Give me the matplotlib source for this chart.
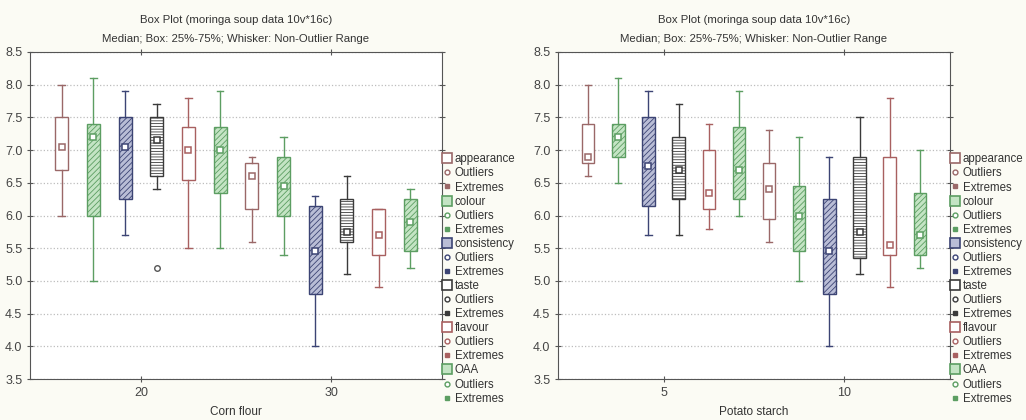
import matplotlib
matplotlib.use('Agg')
import matplotlib.pyplot as plt
from matplotlib.lines import Line2D

plt.rcParams['font.family'] = ['Liberation Sans', 'DejaVu Sans']
plt.rcParams['hatch.linewidth'] = 0.6

# ---------------------------- data ----------------------------------
variables = ['appearance', 'colour', 'consistency', 'taste', 'flavour', 'OAA']

# order: level 1 (six variables), then level 2 (six variables)
corn_levels = [20, 30]
corn_whishi = [8.0, 8.1, 7.9, 7.7, 7.8, 7.9, 6.9, 7.2, 6.3, 6.6, 6.1, 6.4]
corn_q3 = [7.5, 7.4, 7.5, 7.5, 7.35, 7.35, 6.8, 6.9, 6.15, 6.25, 6.1, 6.25]
corn_med = [7.05, 7.2, 7.05, 7.15, 7.0, 7.0, 6.6, 6.45, 5.45, 5.75, 5.7, 5.9]
corn_q1 = [6.7, 6.0, 6.25, 6.6, 6.55, 6.35, 6.1, 6.0, 4.8, 5.6, 5.4, 5.45]
corn_whislo = [6.0, 5.0, 5.7, 6.4, 5.5, 5.5, 5.6, 5.4, 4.0, 5.1, 4.9, 5.2]
corn_outliers = [[], [], [], [5.2], [], [], [], [], [], [], [], []]

potato_levels = [5, 10]
potato_whishi = [8.0, 8.1, 7.9, 7.7, 7.4, 7.9, 7.3, 7.2, 6.9, 7.5, 7.8, 7.0]
potato_q3 = [7.4, 7.4, 7.5, 7.2, 7.0, 7.35, 6.8, 6.45, 6.25, 6.9, 6.9, 6.35]
potato_med = [6.9, 7.2, 6.75, 6.7, 6.35, 6.7, 6.4, 6.0, 5.45, 5.75, 5.55, 5.7]
potato_q1 = [6.8, 6.9, 6.15, 6.25, 6.1, 6.25, 5.95, 5.45, 4.8, 5.35, 5.4, 5.4]
potato_whislo = [6.6, 6.5, 5.7, 5.7, 5.8, 6.0, 5.6, 5.0, 4.0, 5.1, 4.9, 5.2]
potato_outliers = [[] for _ in range(12)]

# --------------------------- styles ---------------------------------
edge_cols = ['#9a6868', '#5c9e62', '#3c4474', '#3a3a3a', '#a86060', '#5c9e62']
face_cols = ['white', '#c4e4c4', '#b9bdd6', 'white', 'white', '#c4e4c4']
hatches = [None, '//////', '//////', '------', None, '//////']

fig = plt.figure(figsize=(10.26, 4.2), dpi=100, facecolor='#fbfbf4')
ax1 = fig.add_axes([0.0292, 0.0976, 0.4016, 0.7786])
ax2 = fig.add_axes([0.5439, 0.0976, 0.3820, 0.7786])


def draw_panel(ax, levels, whislo, q1, med, q3, whishi, outl, xlabel):
    step = (levels[1] - levels[0]) / 6.0
    width = step * 0.41
    for j, lev in enumerate(levels):
        for i in range(6):
            k = j * 6 + i
            pos = lev + (i - 2.5) * step
            st = [{'whislo': whislo[k], 'q1': q1[k], 'med': med[k],
                   'q3': q3[k], 'whishi': whishi[k], 'fliers': outl[k]}]
            c = edge_cols[i]
            b = ax.bxp(st, positions=[pos], widths=width, patch_artist=True,
                       showfliers=True, manage_ticks=False,
                       boxprops=dict(facecolor=face_cols[i], edgecolor=c, linewidth=1.0),
                       whiskerprops=dict(color=c, linewidth=1.0),
                       capprops=dict(color=c, linewidth=1.0),
                       medianprops=dict(linewidth=0),
                       flierprops=dict(marker='o', markersize=4, markerfacecolor='white',
                                       markeredgecolor='#555555'),
                       capwidths=width * 0.5)
            if hatches[i]:
                b['boxes'][0].set_hatch(hatches[i])
            ax.plot([pos], [med[k]], 's', markersize=5, markerfacecolor='white',
                    markeredgecolor=c, markeredgewidth=1.1, zorder=5)
    ax.set_xlim(levels[0] - 3 * step - 0.5 * step, levels[1] + 3 * step + 0.5 * step)
    ax.set_ylim(3.5, 8.5)
    ax.set_xticks(levels)
    ax.set_yticks([3.5, 4.0, 4.5, 5.0, 5.5, 6.0, 6.5, 7.0, 7.5, 8.0, 8.5])
    ax.set_yticklabels(['3.5', '4.0', '4.5', '5.0', '5.5', '6.0', '6.5', '7.0', '7.5', '8.0', '8.5'])
    ax.yaxis.grid(True, linestyle=':', color='#bdbdbd', linewidth=0.9)
    ax.set_axisbelow(True)
    ax.tick_params(axis='both', direction='inout', length=4, labelsize=9,
                   colors='#555555', labelcolor='#444444', top=True, right=True)
    for s in ax.spines.values():
        s.set_color('#555555')
    ax.set_title('Box Plot (moringa soup data 10v*16c)\nMedian; Box: 25%-75%; Whisker: Non-Outlier Range',
                 fontsize=8.2, color='#333333', linespacing=2.2, pad=7)
    ax.set_xlabel(xlabel, fontsize=8.5, color='#333333', labelpad=5)

    handles = []
    labels = []
    for i, v in enumerate(variables):
        handles.append(Line2D([], [], marker='s', linestyle='none', markersize=7.5,
                              markerfacecolor=face_cols[i], markeredgecolor=edge_cols[i],
                              markeredgewidth=1.2))
        labels.append(v)
        handles.append(Line2D([], [], marker='o', linestyle='none', markersize=3.5,
                              markerfacecolor='white', markeredgecolor=edge_cols[i]))
        labels.append('Outliers')
        handles.append(Line2D([], [], marker='s', linestyle='none', markersize=3,
                              markerfacecolor=edge_cols[i], markeredgecolor=edge_cols[i]))
        labels.append('Extremes')
    leg = ax.legend(handles, labels, loc='upper left', bbox_to_anchor=(1.0, 0.69),
                    frameon=False, labelspacing=0.18, handlelength=0.8,
                    handletextpad=0.3, borderaxespad=0.0, borderpad=0.0,
                    prop={'family': ['Liberation Sans'], 'size': 8.3})
    for t in leg.get_texts():
        t.set_color('#333333')


draw_panel(ax1, corn_levels, corn_whislo, corn_q1, corn_med, corn_q3, corn_whishi,
           corn_outliers, 'Corn flour')
draw_panel(ax2, potato_levels, potato_whislo, potato_q1, potato_med, potato_q3, potato_whishi,
           potato_outliers, 'Potato starch')

fig.savefig('out.png', dpi=100, facecolor=fig.get_facecolor())
